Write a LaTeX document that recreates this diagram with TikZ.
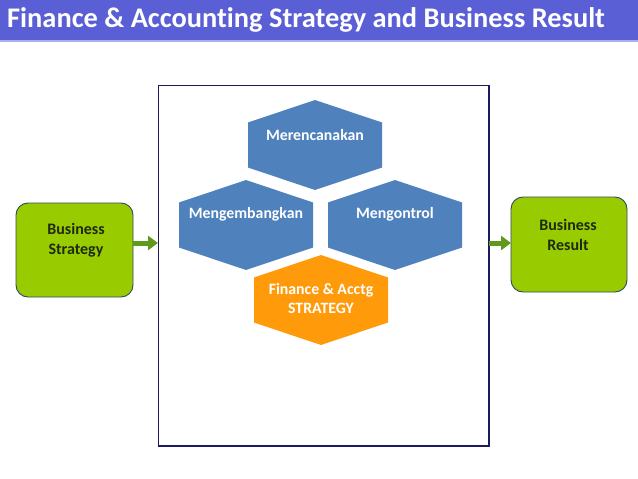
\documentclass[tikz,border=0pt]{standalone}
\usepackage{fontspec}
\setmainfont{Carlito}[Ligatures=NoCommon]
\usetikzlibrary{arrows.meta}
\definecolor{titlebar}{HTML}{5A5FD6}
\definecolor{titleline}{HTML}{A9B0EC}
\definecolor{hexblue}{HTML}{4F81BD}
\definecolor{hexorange}{HTML}{FF9A0A}
\definecolor{boxgreen}{HTML}{99CC00}
\definecolor{boxedge}{HTML}{2E4A62}
\definecolor{arrowgreen}{HTML}{5F9A1F}
\definecolor{frameblue}{HTML}{1C1A5E}
\definecolor{boxtext}{HTML}{1E2A10}
\tikzset{
  hexlabel/.style={text=white, font=\fontsize{15.8}{19}\selectfont\bfseries, align=center},
  greenbox/.style={draw=boxedge, line width=0.9pt, fill=boxgreen, rounded corners=12pt},
  boxlabel/.style={text=boxtext, font=\fontsize{16}{19.5}\selectfont\bfseries, align=center},
  flowarrow/.style={draw=arrowgreen, line width=5pt, -{Triangle[width=14pt,length=10pt]}},
}
\begin{document}
\begin{tikzpicture}[x=1pt,y=-1pt]
\useasboundingbox (0,0) rectangle (638,479);
\fill[white] (0,0) rectangle (638,479);
% title bar
\fill[titlebar] (0,0) rectangle (638,40);
\fill[titleline] (0,40) rectangle (638,42);
\node[anchor=west, text=white, font=\fontsize{28.4}{32}\selectfont\bfseries, inner sep=0pt] (title) at (7,20) {Finance \& Accounting Strategy and Business Result};
% frame
\draw[frameblue, line width=1.2pt] (158.5,85.5) rectangle (489,446);
% hexagons
\newcommand{\hexat}[3]{\fill[#3] (#1,#2-45) -- (#1+67,#2-22.5) -- (#1+67,#2+22.5) -- (#1,#2+45) -- (#1-67,#2+22.5) -- (#1-67,#2-22.5) -- cycle;}
\hexat{315}{145}{hexblue}
\hexat{246}{225}{hexblue}
\hexat{395}{225}{hexblue}
\hexat{321}{300}{hexorange}
\node[hexlabel] (plan) at (315,135) {Merencanakan};
\node[hexlabel] (dev) at (246,214) {Mengembangkan};
\node[hexlabel] (ctrl) at (395,214) {Mengontrol};
\node[hexlabel] (fin) at (321,299) {Finance \& Acctg\\STRATEGY};
% green boxes
\draw[greenbox] (16,203) rectangle (133,297);
\node[boxlabel] (bs) at (76,240) {Business\\Strategy};
\draw[greenbox] (511,197) rectangle (627,292);
\node[boxlabel] (br) at (568,235) {Business\\Result};
\coordinate (bsr) at (133,243);
\coordinate (fl) at (158,243);
\coordinate (fr) at (489,243);
\coordinate (brl) at (511,243);
\draw[flowarrow] (bsr) -- (fl);
\draw[flowarrow] (fr) -- (brl);
\end{tikzpicture}
\end{document}
